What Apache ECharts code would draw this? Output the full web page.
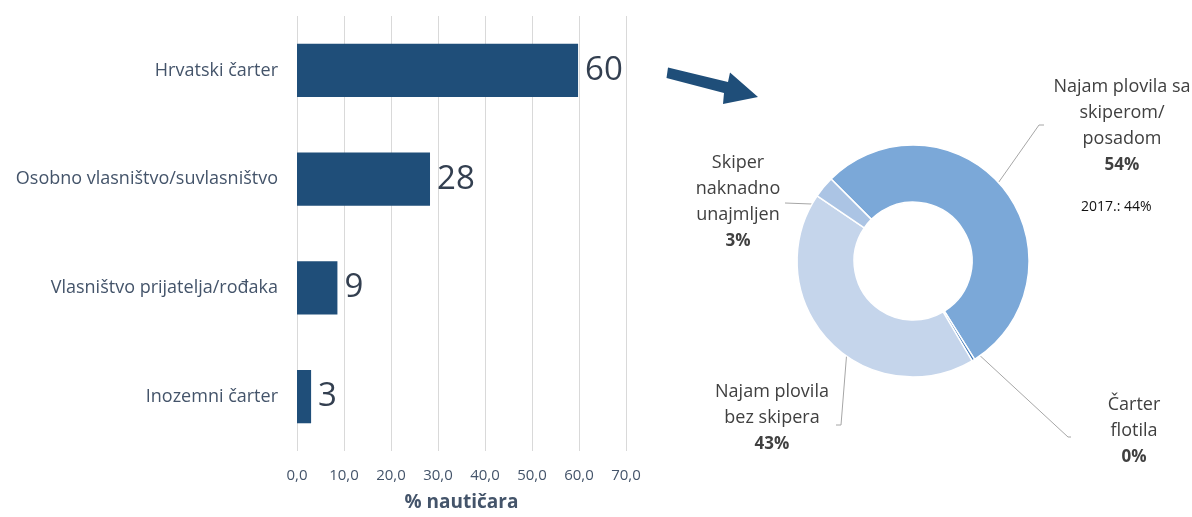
<!DOCTYPE html>
<html>
<head>
<meta charset="utf-8">
<script src="https://cdn.jsdelivr.net/npm/echarts@6/dist/echarts.min.js"></script>
<style>
  html, body { margin: 0; padding: 0; background: #fff; }
  #main { width: 1192px; height: 517px; }
</style>
</head>
<body>
<div id="main"></div>
<script>
// bar chart: boat type used
var barCategories = ['Hrvatski čarter', 'Osobno vlasništvo/suvlasništvo', 'Vlasništvo prijatelja/rođaka', 'Inozemni čarter'];
var barValues = [59.8, 28.3, 8.6, 3.0];
var xTicks = [0, 10, 20, 30, 40, 50, 60, 70];

// donut: type of charter
var pieNames = ['Najam plovila sa\nskiperom/\nposadom', 'Čarter\nflotila', 'Najam plovila\nbez skipera', 'Skiper\nnaknadno\nunajmljen'];
var pieValues = [53.6, 0.4, 43.0, 3.0];
var pieColors = ['#7ba8d8', '#3f78b8', '#c5d5eb', '#abc4e4'];
var note2017 = '2017.: 44%';

var chart = echarts.init(document.getElementById('main'));
var textColor = '#44546a';
var font = 'Open Sans';

// where each donut label sits (centre of text block) and where its leader line bends
var labelPos = [
    {x: 1122, y: 126, bend: [[1039, 125], [1044, 125]]},
    {x: 1134, y: 431, bend: [[1068, 437], [1071, 437]]},
    {x: 772, y: 418, bend: [[841, 425], [836, 425]]},
    {x: 738, y: 202, bend: [[785, 203]]}
];
var pieCenter = ['76.6%', '50.5%'];
var pieRadius = [59, 116];

var option = {
    textStyle: { fontFamily: font },
    grid: {
        left: 297,
        right: 566,
        top: 16,
        bottom: 61,
        containLabel: false
    },
    xAxis: {
        type: 'value',
        min: xTicks[0],
        max: xTicks[xTicks.length - 1],
        interval: 10,
        axisLine: { show: false },
        axisTick: { show: false },
        splitLine: { lineStyle: { color: '#d9d9d9' } },
        axisLabel: {
            color: textColor,
            fontSize: 15,
            margin: 17,
            formatter: function (v) { return v.toFixed(1).replace('.', ','); }
        },
        name: '% nautičara',
        nameLocation: 'middle',
        nameGap: 42,
        nameTextStyle: { color: textColor, fontSize: 19, fontWeight: 'bold' }
    },
    yAxis: {
        type: 'category',
        inverse: true,
        data: barCategories,
        axisLine: { show: false },
        axisTick: { show: false },
        axisLabel: { color: textColor, fontSize: 18, margin: 19 }
    },
    graphic: [
        {
            type: 'polygon',
            shape: {
                points: [[668, 67.5], [728, 82], [730, 72.5], [758, 97], [723, 104], [724, 93], [666.5, 78]]
            },
            style: { fill: '#1f4e79' }
        },
        {
            type: 'text',
            left: 1081,
            top: 200,
            style: { text: note2017, fill: '#111', fontSize: 14, fontFamily: font }
        }
    ],
    series: [
        {
            type: 'bar',
            data: barValues,
            barWidth: '49%',
            itemStyle: { color: '#1f4e79' },
            label: {
                show: true,
                position: 'right',
                distance: 7,
                fontSize: 33,
                color: '#333f50',
                formatter: function (p) { return Math.round(p.value); }
            },
            silent: true
        },
        {
            type: 'pie',
            center: pieCenter,
            radius: pieRadius,
            startAngle: 135,
            clockwise: true,
            avoidLabelOverlap: false,
            minShowLabelAngle: 0,
            silent: true,
            itemStyle: { borderColor: '#fff', borderWidth: 1.5 },
            label: {
                show: true,
                position: 'outside',
                align: 'center',
                color: '#404040',
                formatter: function (p) {
                    return '{n|' + p.name + '}\n{p|' + Math.round(p.value) + '%}';
                },
                rich: {
                    n: { fontSize: 18, lineHeight: 26, color: '#404040', align: 'center', fontFamily: font },
                    p: { fontSize: 17, lineHeight: 26, color: '#404040', fontWeight: 'bold', align: 'center', fontFamily: font }
                }
            },
            labelLine: {
                show: true,
                length: 10,
                length2: 10,
                lineStyle: { color: '#a6a6a6', width: 1 }
            },
            labelLayout: function (params) {
                var pos = labelPos[params.dataIndex];
                var cx = chart.getWidth() * parseFloat(pieCenter[0]) / 100;
                var cy = chart.getHeight() * parseFloat(pieCenter[1]) / 100;
                var p0 = params.labelLinePoints[0];
                var dx = p0[0] - cx, dy = p0[1] - cy;
                var len = Math.sqrt(dx * dx + dy * dy) || 1;
                var rMid = (pieRadius[0] + pieRadius[1]) / 2;
                var start = [cx + dx / len * rMid, cy + dy / len * rMid];
                return {
                    x: pos.x,
                    y: pos.y,
                    align: 'center',
                    verticalAlign: 'middle',
                    labelLinePoints: [start].concat(pos.bend.length === 1 ? [pos.bend[0], pos.bend[0]] : pos.bend)
                };
            },
            data: pieNames.map(function (n, i) {
                return { name: n, value: pieValues[i], itemStyle: { color: pieColors[i] } };
            })
        }
    ]
};

chart.setOption(option);
</script>
</body>
</html>
